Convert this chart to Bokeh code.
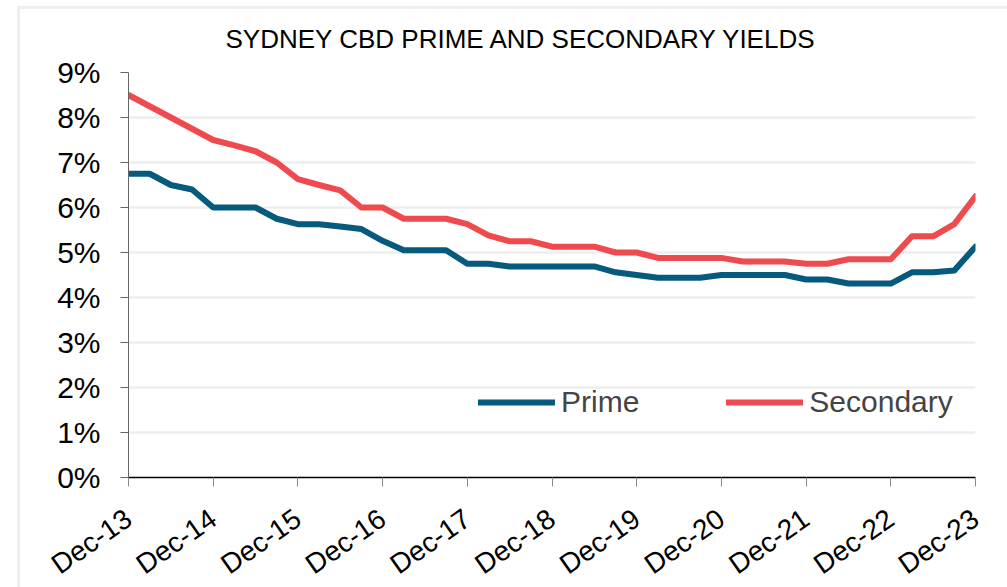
import math
from bokeh.plotting import figure
from bokeh.models import Range1d, FixedTicker, Legend, LegendItem, Title
from bokeh.embed import file_html
from bokeh.resources import INLINE

# Quarterly yields (%), Dec-13 through Dec-23
prime = [6.75, 6.75, 6.5, 6.4, 6.0, 6.0, 6.0, 5.75, 5.63, 5.63, 5.58,
         5.52, 5.26, 5.05, 5.05, 5.05, 4.75, 4.75, 4.69, 4.69, 4.69,
         4.69, 4.69, 4.56, 4.5, 4.44, 4.44, 4.44, 4.5, 4.5, 4.5,
         4.5, 4.4, 4.4, 4.31, 4.31, 4.31, 4.56, 4.56, 4.6, 5.13]
secondary = [8.5, 8.25, 8.0, 7.75, 7.5, 7.38, 7.25, 7.0, 6.63, 6.5, 6.38,
             6.0, 6.0, 5.75, 5.75, 5.75, 5.63, 5.38, 5.25, 5.25, 5.13,
             5.13, 5.13, 5.0, 5.0, 4.88, 4.88, 4.88, 4.88, 4.8, 4.8,
             4.8, 4.75, 4.75, 4.85, 4.85, 4.85, 5.36, 5.36, 5.63, 6.25]
year_labels = ["Dec-13", "Dec-14", "Dec-15", "Dec-16", "Dec-17", "Dec-18",
               "Dec-19", "Dec-20", "Dec-21", "Dec-22", "Dec-23"]
y_ticks = [0, 1, 2, 3, 4, 5, 6, 7, 8, 9]
title_text = "SYDNEY CBD PRIME AND SECONDARY YIELDS"

quarters = list(range(len(prime)))
year_ticks = [4 * i for i in range(len(year_labels))]

FONT = "Liberation Sans"
BLUE = "#055a7e"
RED = "#ef4b4f"
EDGE = "#eeeeee"

p = figure(frame_width=847, frame_height=405, output_backend="svg",
           toolbar_location=None,
           x_range=Range1d(0, 40), y_range=Range1d(0, 9),
           min_border_left=128, min_border_right=32,
           min_border_top=72, min_border_bottom=100)
# faint card outline along the left and top edges, painted behind the canvas
p.styles = {"background": (f"linear-gradient({EDGE}, {EDGE}) 17px 6px / 100% 3px no-repeat, "
                           f"linear-gradient({EDGE}, {EDGE}) 17px 6px / 3px 100% no-repeat, "
                           "#ffffff")}
p.outline_line_color = None
p.background_fill_color = "white"
p.border_fill_color = None

p.title = Title(text=title_text, align="left", offset=97, standoff=38,
                text_font=FONT, text_font_size="26px",
                text_font_style="normal", text_color="black")

# x axis
p.xaxis.ticker = FixedTicker(ticks=year_ticks)
p.xaxis.major_label_overrides = {t: l for t, l in zip(year_ticks, year_labels)}
p.xaxis.major_label_orientation = math.radians(35)
p.xaxis.major_label_text_font = FONT
p.xaxis.major_label_text_font_size = "28px"
p.xaxis.major_label_text_color = "black"
p.xaxis.axis_line_color = "black"
p.xaxis.axis_line_width = 1.5
p.xaxis.major_tick_line_color = "#888888"
p.xaxis.major_tick_in = 0
p.xaxis.major_tick_out = 9
p.xaxis.minor_tick_line_color = None
p.xaxis.major_label_standoff = 29
p.xgrid.grid_line_color = None

# y axis
p.yaxis.ticker = FixedTicker(ticks=y_ticks)
p.yaxis.major_label_overrides = {t: f"{t}%" for t in y_ticks}
p.yaxis.major_label_text_font = FONT
p.yaxis.major_label_text_font_size = "30px"
p.yaxis.major_label_text_color = "black"
p.yaxis.axis_line_color = "#666666"
p.yaxis.axis_line_width = 1
p.yaxis.major_tick_line_color = "#666666"
p.yaxis.major_tick_in = 0
p.yaxis.major_tick_out = 8
p.yaxis.minor_tick_line_color = None
p.yaxis.major_label_standoff = 20
p.ygrid.grid_line_color = "#eeeeee"
p.ygrid.grid_line_width = 2.5

r_prime = p.line(quarters, prime, line_color=BLUE, line_width=6,
                 line_join="round", line_cap="round")
r_sec = p.line(quarters, secondary, line_color=RED, line_width=6,
               line_join="round", line_cap="round")

legend = Legend(items=[LegendItem(label="Prime", renderers=[r_prime]),
                       LegendItem(label="Secondary", renderers=[r_sec])],
                orientation="horizontal", location=(350, 58),
                glyph_width=77, glyph_height=24, label_standoff=6,
                spacing=87, padding=0, margin=0,
                label_text_font=FONT, label_text_font_size="30px",
                border_line_color=None, background_fill_alpha=0)
p.add_layout(legend, "center")

open("out.html", "w").write(file_html(p, INLINE))
